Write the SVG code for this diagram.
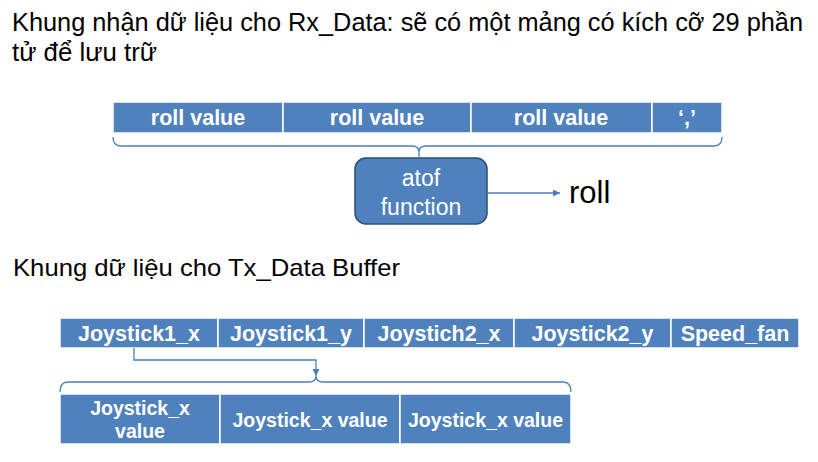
<svg xmlns="http://www.w3.org/2000/svg" width="818" height="462" viewBox="0 0 818 462">
<defs>
<style>
.cell{fill:#4f81bd;stroke:#ffffff;stroke-width:1.5}
.ct{font-family:"Liberation Sans",Arial,sans-serif;font-weight:bold;fill:#ffffff;text-anchor:middle}
.title{font-family:"Liberation Sans",Arial,sans-serif;fill:#000000}
.conn{fill:none;stroke:#4a7ebb;stroke-width:1.3}
</style>
<marker id="ah" viewBox="0 0 10 10" refX="10" refY="5" markerWidth="7" markerHeight="7" markerUnits="userSpaceOnUse" orient="auto">
<path d="M0,0 L10,5 L0,10 z" fill="#4a7ebb"/>
</marker>
</defs>
<rect width="818" height="462" fill="#ffffff"/>
<g id="titles">
<text class="title" x="12" y="31" font-size="25" textLength="791" lengthAdjust="spacingAndGlyphs">Khung nhận dữ liệu cho Rx_Data: sẽ có một mảng có kích cỡ 29 phần</text>
<text class="title" x="12" y="61" font-size="25" textLength="145" lengthAdjust="spacingAndGlyphs">tử để lưu trữ</text>
<text class="title" x="13" y="276" font-size="24" textLength="387" lengthAdjust="spacingAndGlyphs">Khung dữ liệu cho Tx_Data Buffer</text>
</g>
<g id="rx-row">
<rect class="cell" x="113" y="102" width="170" height="31"/>
<rect class="cell" x="283" y="102" width="188" height="31"/>
<rect class="cell" x="471" y="102" width="181" height="31"/>
<rect class="cell" x="652" y="102" width="70" height="31"/>
<text class="ct" x="198" y="125" font-size="21.5">roll value</text>
<text class="ct" x="377" y="125" font-size="21.5">roll value</text>
<text class="ct" x="561" y="125" font-size="21.5">roll value</text>
<text class="ct" x="687" y="125" font-size="21.5">‘,’</text>
</g>
<g id="atof">
<rect x="355" y="158" width="132" height="66" rx="11" fill="#4f81bd" stroke="#2c4d75" stroke-width="1.5"/>
<text x="421" y="186" font-family="'Liberation Sans',Arial,sans-serif" font-size="23" fill="#ffffff" text-anchor="middle">atof</text>
<text x="421" y="215" font-family="'Liberation Sans',Arial,sans-serif" font-size="23" fill="#ffffff" text-anchor="middle">function</text>
</g>
<g id="roll">
<text class="title" x="569" y="203" font-size="31">roll</text>
</g>
<g id="tx-row">
<rect class="cell" x="60" y="318" width="158" height="30"/>
<rect class="cell" x="218" y="318" width="146" height="30"/>
<rect class="cell" x="364" y="318" width="150" height="30"/>
<rect class="cell" x="514" y="318" width="157" height="30"/>
<rect class="cell" x="671" y="318" width="128" height="30"/>
<text class="ct" x="139" y="341" font-size="21.5">Joystick1_x</text>
<text class="ct" x="291" y="341" font-size="21.5">Joystick1_y</text>
<text class="ct" x="439" y="341" font-size="21.5">Joystich2_x</text>
<text class="ct" x="592.5" y="341" font-size="21.5">Joystick2_y</text>
<text class="ct" x="735" y="341" font-size="21.5">Speed_fan</text>
</g>
<g id="value-row">
<rect class="cell" x="60" y="394" width="160" height="50"/>
<rect class="cell" x="220" y="394" width="180" height="50"/>
<rect class="cell" x="400" y="394" width="171" height="50"/>
<text class="ct" x="140" y="415" font-size="19.5">Joystick_x</text>
<text class="ct" x="140" y="438" font-size="19.5">value</text>
<text class="ct" x="310" y="427" font-size="19.5">Joystick_x value</text>
<text class="ct" x="485.5" y="427" font-size="19.5">Joystick_x value</text>
</g>
<g id="connectors">
<path class="conn" d="M113,137 Q113,146 121,146 H412 Q419,146 419,152 Q419,146 426,146 H714 Q722,146 722,137"/>
<path class="conn" d="M419,152 V158"/>
<path class="conn" d="M487,193 H560" marker-end="url(#ah)"/>
<path class="conn" d="M60,392 Q60,382 68,382 H309 Q316,382 316,376 Q316,382 323,382 H563 Q571,382 571,392"/>
<path class="conn" d="M134,348 V360 H316 V376" marker-end="url(#ah)"/>
</g>
</svg>
